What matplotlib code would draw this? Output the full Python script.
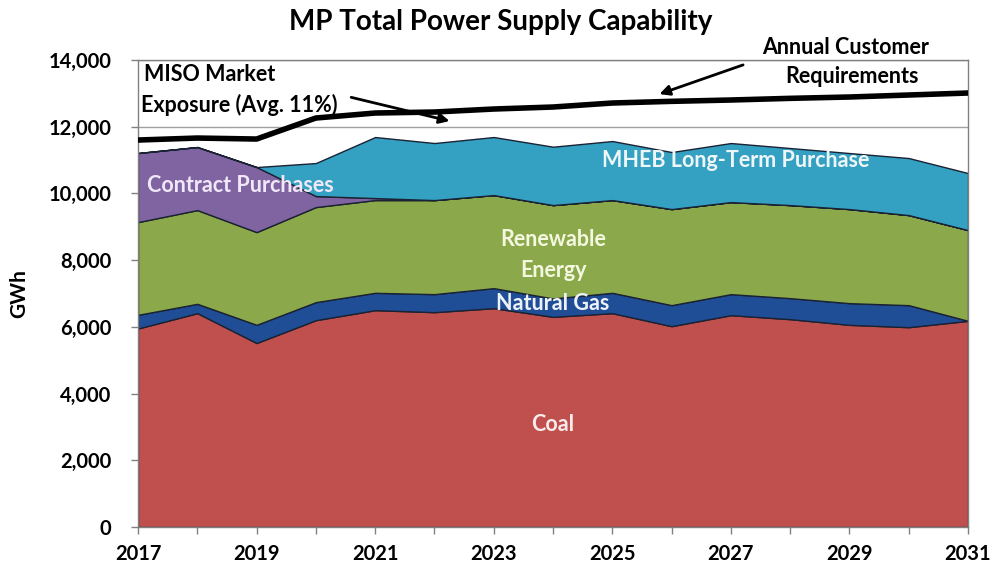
import matplotlib
matplotlib.use("Agg")
import matplotlib.pyplot as plt
import numpy as np

years = list(range(2017, 2032))
coal = [5950, 6410, 5515, 6200, 6500, 6440, 6560, 6300, 6410, 6020, 6350, 6230, 6060, 5990, 6180]
natural_gas = [410, 280, 545, 540, 520, 540, 600, 550, 610, 630, 630, 630, 650, 660, 0]
renewable = [2780, 2810, 2780, 2850, 2780, 2820, 2790, 2800, 2780, 2880, 2760, 2790, 2820, 2700, 2720]
contract = [2070, 1890, 1950, 330, 60, 0, 0, 0, 0, 0, 0, 0, 0, 0, 0]
mheb = [0, 0, 0, 990, 1830, 1710, 1740, 1750, 1770, 1710, 1770, 1710, 1680, 1710, 1710]
requirements = [11600, 11660, 11630, 12260, 12410, 12440, 12530, 12590, 12710, 12760, 12800, 12850, 12890, 12950, 13010]

yticks = list(range(0, 14001, 2000))
xticks = list(range(2017, 2032, 2))

plt.rcParams['font.family'] = ['Lato', 'DejaVu Sans']
fig = plt.figure(figsize=(9.95, 5.74), dpi=100)
ax = fig.add_axes([0.1387, 0.0819, 0.8342, 0.8136])

colors = ['#C0504D', '#1F4E96', '#8BA84A', '#8064A2', '#34A0C2']
ax.stackplot(years, coal, natural_gas, renewable, contract, mheb,
             colors=colors, edgecolor='#1a2233', linewidth=1.0, zorder=2)
ax.plot(years, requirements, color='black', linewidth=4, solid_joinstyle='round', zorder=3)

ax.set_xlim(2017, 2031)
ax.set_ylim(0, 14000)
ax.set_yticks(yticks)
ax.set_yticklabels([f"{v:,}" for v in yticks])
ax.set_xticks(xticks)
ax.set_xticks(years, minor=True)
ax.yaxis.grid(True, color='#a0a0a0', linewidth=1, zorder=0)
ax.set_axisbelow(True)
for s in ax.spines.values():
    s.set_color('#808080')
    s.set_linewidth(1)
ax.tick_params(axis='both', which='both', direction='out', color='#808080', length=5, width=1)
ax.tick_params(axis='x', which='major', labelsize=14.5, pad=7)
ax.tick_params(axis='y', which='major', labelsize=14.5, pad=14, length=5)
for lab in ax.get_xticklabels() + ax.get_yticklabels():
    lab.set_fontweight('bold')
ax.set_ylabel('GWh', fontsize=15, fontweight='bold', labelpad=14)

fig.text(0.503, 0.962, 'MP Total Power Supply Capability', ha='center', va='center',
         fontsize=20, fontweight='bold')

# annotations
ax.annotate('', xy=(2022.3, 12150), xytext=(2020.55, 12900),
            arrowprops=dict(arrowstyle='-|>', color='black', lw=2, mutation_scale=15))
ax.text(2017.1, 13560, 'MISO Market', ha='left', va='center', fontsize=15.5, fontweight='bold')
ax.text(2017.05, 12650, 'Exposure (Avg. 11%)', ha='left', va='center', fontsize=15.5, fontweight='bold')

ax.annotate('', xy=(2025.75, 12950), xytext=(2027.25, 13880),
            arrowprops=dict(arrowstyle='-|>', color='black', lw=2, mutation_scale=15), annotation_clip=False)
fig.text(0.85, 0.918, 'Annual Customer', ha='center', va='center', fontsize=15.5, fontweight='bold')
ax.text(2029.05, 13500, 'Requirements', ha='center', va='center', fontsize=15.5, fontweight='bold')

ax.text(2017.15, 10250, 'Contract Purchases', ha='left', va='center', fontsize=15.5,
        fontweight='bold', color='#F0E8F8', zorder=4)
ax.text(2027.08, 11000, 'MHEB Long-Term Purchase', ha='center', va='center', fontsize=15.5,
        fontweight='bold', color='#EEF6F8', zorder=4)
ax.text(2024.0, 8630, 'Renewable', ha='center', va='center', fontsize=15.5,
        fontweight='bold', color='#F4F8E0', zorder=4)
ax.text(2024.0, 7680, 'Energy', ha='center', va='center', fontsize=15.5,
        fontweight='bold', color='#F4F8E0', zorder=4)
ax.text(2024.0, 6700, 'Natural Gas', ha='center', va='center', fontsize=15.5,
        fontweight='bold', color='#EEF2F8', zorder=4)
ax.text(2024.0, 3060, 'Coal', ha='center', va='center', fontsize=15.5,
        fontweight='bold', color='#F8ECEC', zorder=4)

fig.savefig('out.png', dpi=100)
